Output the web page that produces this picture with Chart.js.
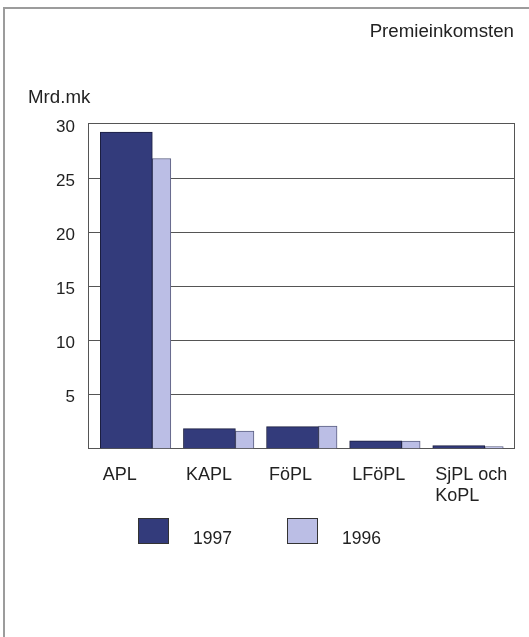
<!DOCTYPE html>
<html>
<head>
<meta charset="utf-8">
<script src="https://cdn.jsdelivr.net/npm/chart.js@4/dist/chart.umd.min.js"></script>
<style>
  html, body { margin: 0; padding: 0; background: #fff; }
  #wrap { position: relative; width: 529px; height: 637px; overflow: hidden; }
  #frame { position: absolute; left: 3px; top: 7px; right: -10px; bottom: -10px;
           border-left: 2px solid #9c9c9c; border-top: 2px solid #9c9c9c; }
  #legend { position: absolute; left: 138px; top: 518px; display: flex;
            font-family: "Liberation Sans", Arial, sans-serif; font-size: 17.5px; color: #222; }
  .item { display: flex; align-items: flex-end; margin-right: 55px; }
  .box { width: 29px; height: 24px; border: 1px solid #333; margin-right: 24px; }
  .txt { line-height: 18px; position: relative; top: 3px; }
</style>
</head>
<body>
<div id="wrap">
  <div id="frame"></div>
  <canvas id="c" width="529" height="637"></canvas>
  <div id="legend"></div>
</div>
<script>
var categories = ['APL', 'KAPL', 'FöPL', 'LFöPL', ['SjPL och', 'KoPL']];
var years = ['1997', '1996'];
var values1997 = [29.25, 1.87, 2.05, 0.74, 0.30];
var values1996 = [26.8, 1.63, 2.1, 0.72, 0.21];
var yTicks = [5, 10, 15, 20, 25, 30];

var fillColors = ['#333b7b', '#bbbee5'];
var edgeColors = ['#1c1f40', '#5a5e80'];
var font = "'Liberation Sans', Arial, sans-serif";

function points(vals) {
	return vals.map(function (v, i) { return { x: i, y: v }; });
}

var chart = new Chart(document.getElementById('c'), {
	type: 'bar',
	data: {
		datasets: [{
			label: years[0],
			data: points(values1997),
			backgroundColor: fillColors[0],
			borderColor: edgeColors[0],
			borderWidth: 1,
			barThickness: 52
		}, {
			label: years[1],
			data: points(values1996),
			backgroundColor: fillColors[1],
			borderColor: edgeColors[1],
			borderWidth: 1,
			barThickness: 18.5
		}]
	},
	options: {
		responsive: false,
		animation: false,
		layout: { padding: { top: 21, left: 28, right: 15, bottom: 115 } },
		plugins: {
			legend: { display: false },
			tooltip: { enabled: false },
			title: {
				display: true, text: 'Premieinkomsten', align: 'end', color: '#222',
				font: { family: font, size: 18.7, weight: 'normal' },
				padding: { top: 0, bottom: 43 }
			},
			subtitle: {
				display: true, text: 'Mrd.mk', align: 'start', color: '#222',
				font: { family: font, size: 18.7, weight: 'normal' },
				padding: { top: 0, bottom: 15 }
			}
		},
		scales: {
			x: {
				type: 'linear',
				offset: false,
				min: -0.774,
				max: 4.352,
				grid: { display: false, drawTicks: false },
				border: { display: true, color: '#555', width: 1 },
				ticks: {
					align: 'start', labelOffset: -49.5, padding: 15,
					autoSkip: false, maxRotation: 0, color: '#222',
					font: { family: font, size: 18 },
					callback: function (v) { return categories[v]; }
				},
				afterBuildTicks: function (s) {
					s.ticks = categories.map(function (c, i) { return { value: i }; });
				},
				afterFit: function (s) { s.paddingLeft = 0; s.paddingRight = 0; }
			},
			y: {
				min: 0, max: 30,
				grid: { color: '#555', lineWidth: 1, drawTicks: false },
				border: { display: true, color: '#555', width: 1 },
				ticks: {
					padding: 13, labelOffset: 3, color: '#222',
					font: { family: font, size: 17 },
					callback: function (v) { return v === 0 ? '' : v; }
				},
				afterBuildTicks: function (s) {
					s.ticks = [0].concat(yTicks).map(function (v) { return { value: v }; });
				},
				afterFit: function (s) { s.width = 60; }
			},
			y2: {
				position: 'right', display: true,
				grid: { display: false, drawTicks: false },
				border: { display: true, color: '#555', width: 1 },
				ticks: { display: false },
				afterFit: function (s) { s.width = 0; }
			}
		}
	}
});

var legend = document.getElementById('legend');
chart.data.datasets.forEach(function (ds) {
	var item = document.createElement('div');
	item.className = 'item';
	var box = document.createElement('div');
	box.className = 'box';
	box.style.background = ds.backgroundColor;
	var txt = document.createElement('span');
	txt.className = 'txt';
	txt.textContent = ds.label;
	item.appendChild(box);
	item.appendChild(txt);
	legend.appendChild(item);
});
</script>
</body>
</html>
